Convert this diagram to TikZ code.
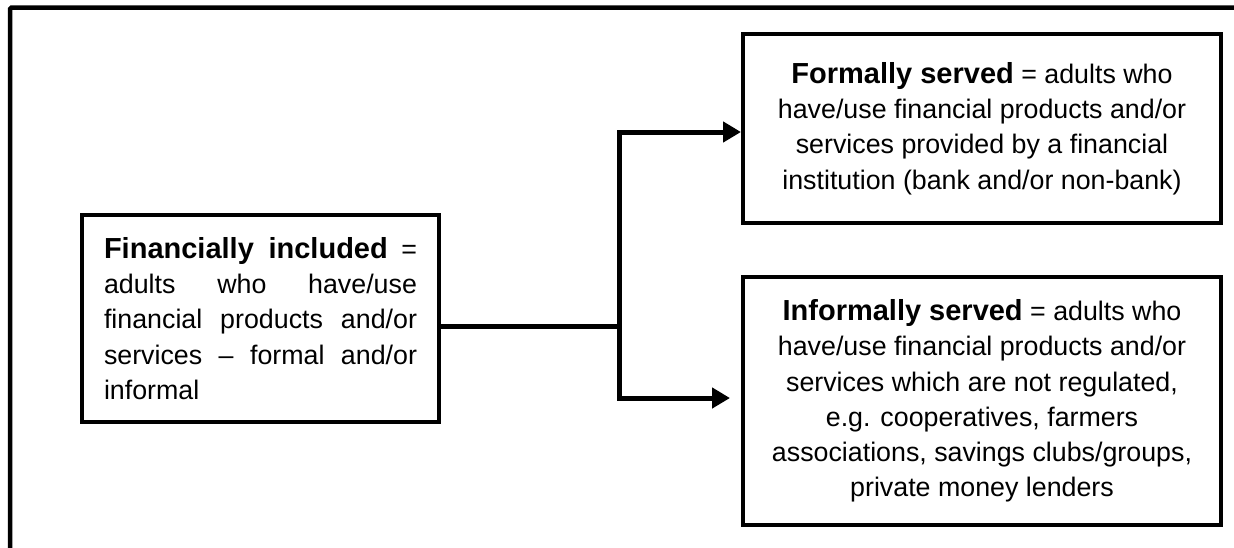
\documentclass[tikz,border=0pt]{standalone}
\usepackage{fontspec}
\setmainfont{Liberation Sans}
\usetikzlibrary{arrows.meta}
% bold lead-in term, set a little larger than the body text
\newcommand{\headterm}[1]{{\fontsize{29}{35.3}\selectfont\bfseries #1}}
\begin{document}
\begin{tikzpicture}[x=1pt,y=-1pt,
  box/.style={draw, rectangle, line width=4.5pt, line join=miter,
    inner sep=0pt, outer sep=0pt, font=\fontsize{26.8}{35.3}\selectfont},
  link/.style={line width=5pt, line join=miter},
  tip/.style={-{Triangle[length=18pt,width=20pt]}}]
\clip (0,0) rectangle (1234,547);
% outer frame, running past the right and bottom edges
\draw[line width=4.5pt, rounded corners=1.5pt] (10,7.5) rectangle (1270,590);

\node[box, minimum width=357pt, minimum height=207pt, text width=313pt,
      align=justify] (incl) at (260.5,318.5)
  {\headterm{Financially included} =\linebreak adults who have/use\linebreak
   financial products and/or\linebreak services – formal and/or\linebreak informal};

\node[box, minimum width=478pt, minimum height=189pt, align=center]
  (formal) at (982,128.5)
  {\headterm{Formally served} = adults who\\have/use financial products and/or\\
   services provided by a financial\\institution (bank and/or non-bank)};

\node[box, minimum width=478pt, minimum height=248pt, align=center]
  (informal) at (982,401)
  {\headterm{Informally served} = adults who\\have/use financial products and/or\\
   services which are not regulated,\\e.g. cooperatives, farmers\\
   associations, savings clubs/groups,\\private money lenders};

% branching connector
\coordinate (j) at (619,326);
\coordinate (ta) at (741,132);
\coordinate (ba) at (730,398);
\draw[link] (incl.east |- j) -- (j);
\draw[link, tip] (j) |- (ta);
\draw[link, tip] (j) |- (ba);
\end{tikzpicture}
\end{document}
